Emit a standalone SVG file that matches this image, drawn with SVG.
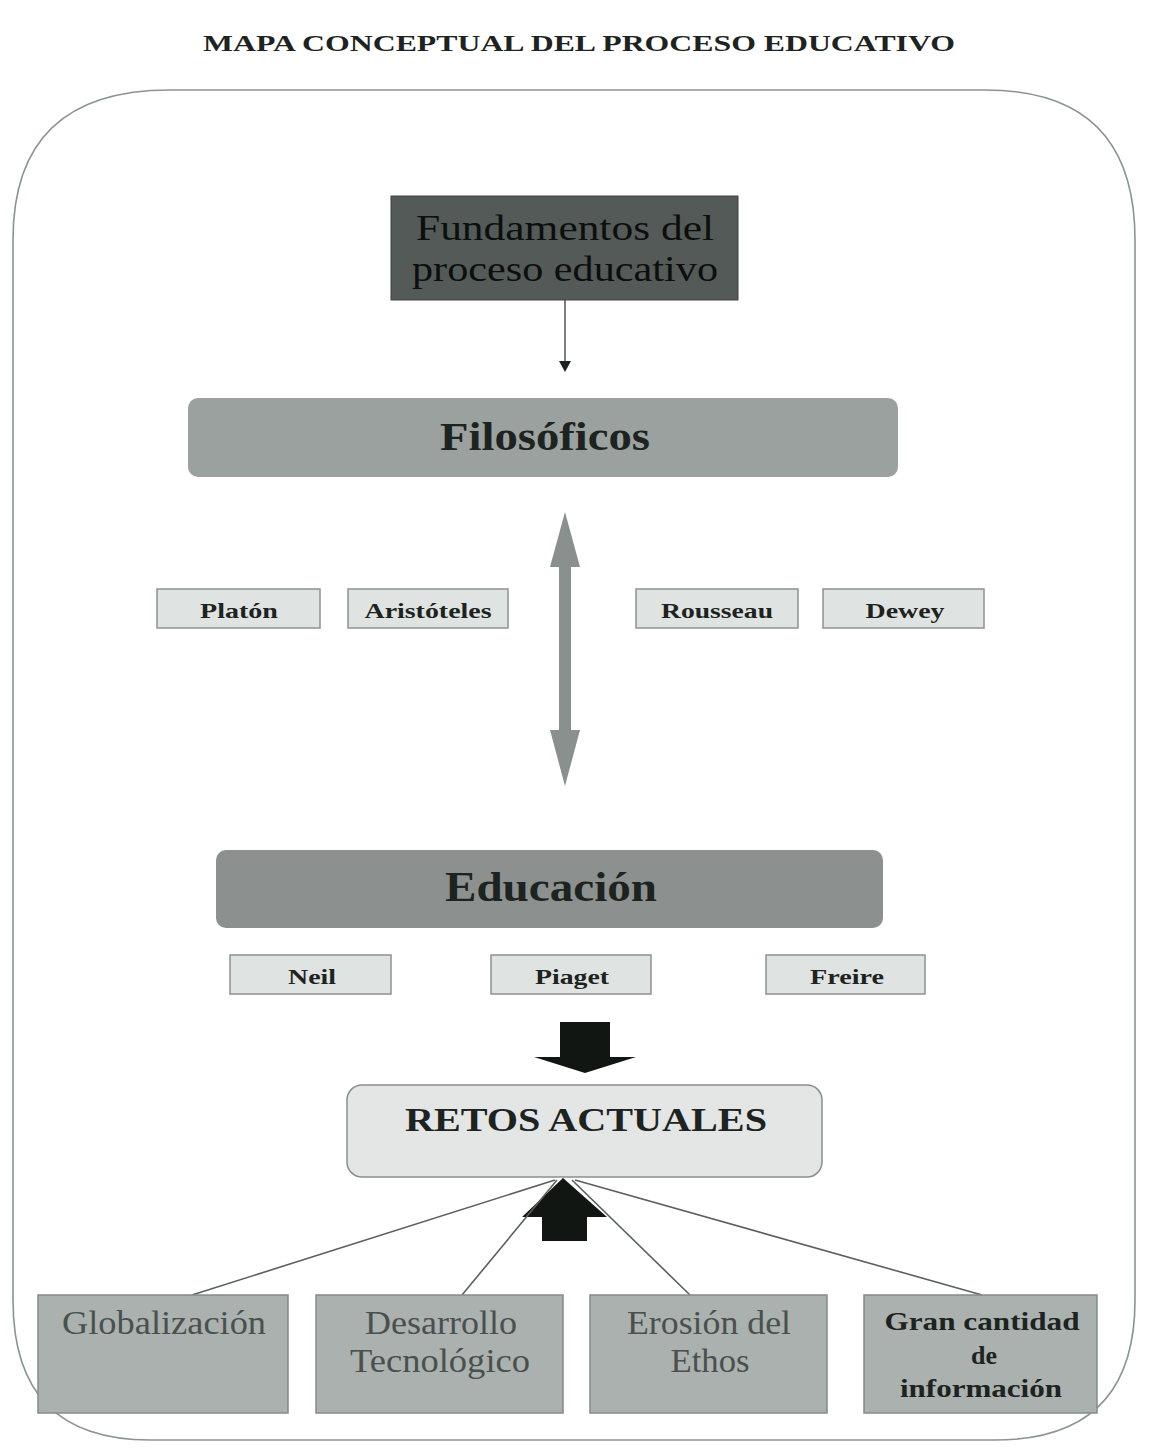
<svg xmlns="http://www.w3.org/2000/svg" width="1166" height="1452" viewBox="0 0 1166 1452">
<style>
.t{font-family:"Liberation Serif","Times New Roman",serif;fill:#1d2320;text-anchor:middle}
.b{font-weight:bold}
.dk{fill:#0c0f0d}
.small{fill:#dfe3e2;stroke:#8c9390;stroke-width:1.5}
.bottom{fill:#abb1ae;stroke:#858b88;stroke-width:1.5}
.conn{stroke:#5a605d;stroke-width:1.6;fill:none}
.bt{fill:#4a504d;font-size:34px}
</style>
<rect width="1166" height="1452" fill="#ffffff"/>
<text class="t b" x="579" y="51" font-size="24" textLength="752" lengthAdjust="spacingAndGlyphs">MAPA CONCEPTUAL DEL PROCESO EDUCATIVO</text>
<g id="frame">
<path d="M170,90 H985 Q1135,90 1135,240 V1300 Q1135,1440 995,1440 H150 Q13,1440 13,1300 V240 Q13,90 170,90 Z" fill="none" stroke="#8a9490" stroke-width="1.6"/>
</g>
<g id="connectors">
<line class="conn" x1="565" y1="300" x2="565" y2="362"/>
<polygon points="559,361 571,361 565,372" fill="#1d2320"/>
<polygon points="565,512 580,567 571,567 571,730 580,730 565,786 550,730 559,730 559,567 550,567" fill="#8a908d"/>
<polygon points="560,1022 610,1022 610,1057 636,1057 585,1073 534,1057 560,1057" fill="#111613"/>
<polygon points="563,1178 607,1217 587,1217 587,1241 542,1241 542,1217 522,1217" fill="#111613"/>
<line class="conn" x1="555" y1="1180" x2="192" y2="1295"/>
<line class="conn" x1="557" y1="1180" x2="462" y2="1295"/>
<line class="conn" x1="572" y1="1180" x2="690" y2="1295"/>
<line class="conn" x1="575" y1="1180" x2="982" y2="1295"/>
</g>
<g id="fundamentos">
<rect x="391" y="196" width="347" height="104" fill="#535a57" stroke="#3e4441" stroke-width="1"/>
<text class="t dk" x="565" y="240" font-size="36" textLength="298" lengthAdjust="spacingAndGlyphs">Fundamentos del</text>
<text class="t dk" x="565" y="281" font-size="36" textLength="306" lengthAdjust="spacingAndGlyphs">proceso educativo</text>
</g>
<g id="filosoficos">
<rect x="188" y="398" width="710" height="79" rx="10" fill="#9ba19e"/>
<text class="t b" x="545" y="450" font-size="40" textLength="210" lengthAdjust="spacingAndGlyphs">Filosóficos</text>
</g>
<g id="platon"><rect class="small" x="157" y="589" width="163" height="39"/><text class="t b" x="239" y="618" font-size="21" textLength="78" lengthAdjust="spacingAndGlyphs">Platón</text></g>
<g id="aristoteles"><rect class="small" x="348" y="589" width="160" height="39"/><text class="t b" x="428" y="618" font-size="21" textLength="127" lengthAdjust="spacingAndGlyphs">Aristóteles</text></g>
<g id="rousseau"><rect class="small" x="636" y="589" width="162" height="39"/><text class="t b" x="717" y="618" font-size="21" textLength="112" lengthAdjust="spacingAndGlyphs">Rousseau</text></g>
<g id="dewey"><rect class="small" x="823" y="589" width="161" height="39"/><text class="t b" x="905" y="618" font-size="21" textLength="79" lengthAdjust="spacingAndGlyphs">Dewey</text></g>
<g id="educacion">
<rect x="216" y="850" width="667" height="78" rx="10" fill="#8c918f"/>
<text class="t b" x="551" y="901" font-size="42" textLength="212" lengthAdjust="spacingAndGlyphs">Educación</text>
</g>
<g id="neil"><rect class="small" x="230" y="955" width="161" height="39"/><text class="t b" x="312" y="984" font-size="21" textLength="48" lengthAdjust="spacingAndGlyphs">Neil</text></g>
<g id="piaget"><rect class="small" x="491" y="955" width="160" height="39"/><text class="t b" x="572" y="984" font-size="21" textLength="74" lengthAdjust="spacingAndGlyphs">Piaget</text></g>
<g id="freire"><rect class="small" x="766" y="955" width="159" height="39"/><text class="t b" x="847" y="984" font-size="21" textLength="74" lengthAdjust="spacingAndGlyphs">Freire</text></g>
<g id="retos">
<rect x="347" y="1085" width="475" height="92" rx="15" fill="#e3e6e5" stroke="#8a8f8c" stroke-width="1.5"/>
<text class="t b" x="586" y="1131" font-size="34" textLength="362" lengthAdjust="spacingAndGlyphs">RETOS ACTUALES</text>
</g>
<g id="globalizacion"><rect class="bottom" x="38" y="1295" width="250" height="118"/><text class="t bt" x="164" y="1334" textLength="204" lengthAdjust="spacingAndGlyphs">Globalización</text></g>
<g id="desarrollo"><rect class="bottom" x="316" y="1295" width="247" height="118"/><text class="t bt" x="441" y="1334" textLength="152" lengthAdjust="spacingAndGlyphs">Desarrollo</text><text class="t bt" x="440" y="1372" textLength="180" lengthAdjust="spacingAndGlyphs">Tecnológico</text></g>
<g id="erosion"><rect class="bottom" x="590" y="1295" width="237" height="118"/><text class="t bt" x="709" y="1334" textLength="164" lengthAdjust="spacingAndGlyphs">Erosión del</text><text class="t bt" x="710" y="1372" textLength="79" lengthAdjust="spacingAndGlyphs">Ethos</text></g>
<g id="gran"><rect class="bottom" x="864" y="1295" width="233" height="118"/><text class="t b" x="982" y="1330" font-size="26" textLength="195" lengthAdjust="spacingAndGlyphs">Gran cantidad</text><text class="t b" x="984" y="1364" font-size="26">de</text><text class="t b" x="981" y="1397" font-size="26" textLength="162" lengthAdjust="spacingAndGlyphs">información</text></g>
</svg>
